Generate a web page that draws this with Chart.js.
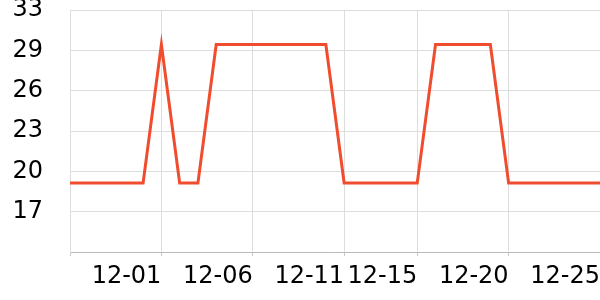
<!DOCTYPE html>
<html>
<head>
<meta charset="utf-8">
<script src="https://cdn.jsdelivr.net/npm/chart.js@4"></script>
<style>
  html, body { margin: 0; padding: 0; background: #fff; }
  #wrap { width: 600px; height: 300px; }
</style>
</head>
<body>
<div id="wrap"><canvas id="lineChart"></canvas></div>
<script>
// Daily values, 11-26 to 12-25
const dates = [
  '11-26', '11-27', '11-28', '11-29', '11-30',
  '12-01', '12-02', '12-03', '12-04', '12-05',
  '12-06', '12-07', '12-08', '12-09', '12-10',
  '12-11', '12-12', '12-13', '12-14', '12-15',
  '12-16', '12-17', '12-18', '12-19', '12-20',
  '12-21', '12-22', '12-23', '12-24', '12-25'
];
const values = [
  19.7, 19.7, 19.7, 19.7, 19.7,
  30.35, 19.7, 19.7, 30.35, 30.35,
  30.35, 30.35, 30.35, 30.35, 30.35,
  19.7, 19.7, 19.7, 19.7, 19.7,
  30.35, 30.35, 30.35, 30.35, 19.7,
  19.7, 19.7, 19.7, 19.7, 19.7
];
// y ticks: evenly spaced values, shown with the labels below
const yTicks = [14.4, 17.5, 20.6, 23.7, 26.8, 29.9, 33.0];
const yTickLabels = ['', '17', '20', '23', '26', '29', '33'];
// x labels that get a label and a grid line
const xTickLabels = ['12-01', '12-06', '12-11', '12-15', '12-20', '12-25'];

document.addEventListener('DOMContentLoaded', () => {
  const ctx = document.getElementById('lineChart').getContext('2d');
  const gridOn = (i) => i === 0 || (xTickLabels.includes(dates[i]) && i !== dates.length - 1);

  new Chart(ctx, {
    type: 'line',
    data: {
      labels: dates,
      datasets: [{
        data: values,
        borderColor: '#ef4d2e',
        borderWidth: 3,
        pointRadius: 0,
        tension: 0,
        fill: false
      }]
    },
    options: {
      responsive: true,
      maintainAspectRatio: false,
      animation: false,
      layout: { padding: 0 },
      plugins: {
        legend: { display: false },
        tooltip: { enabled: false }
      },
      scales: {
        x: {
          offset: false,
          afterFit: (axis) => { axis.height = 48; },
          grid: {
            color: (c) => gridOn(c.index) ? '#dddddd' : 'rgba(0,0,0,0)',
            tickColor: (c) => gridOn(c.index) ? '#c8c8c8' : 'rgba(0,0,0,0)',
            tickLength: 4
          },
          border: { color: '#bbbbbb' },
          ticks: {
            autoSkip: false,
            maxRotation: 0,
            align: 'end',
            padding: 0,
            color: '#000',
            // taller line box pushes the labels down without adding side padding
            font: { family: 'DejaVu Sans', size: 24, lineHeight: 1.7 },
            callback: (v, i) => xTickLabels.includes(dates[i]) ? dates[i] : ''
          }
        },
        y: {
          min: yTicks[0],
          max: yTicks[yTicks.length - 1],
          afterBuildTicks: (axis) => {
            axis.ticks = yTicks.map(v => ({ value: v }));
          },
          afterFit: (axis) => { axis.width = 70; },
          grid: {
            color: '#dddddd',
            tickColor: 'rgba(0,0,0,0)',
            tickLength: 27
          },
          border: { color: '#dddddd' },
          ticks: {
            padding: 0,
            color: '#000',
            font: { family: 'DejaVu Sans', size: 24, lineHeight: 0.84 },
            callback: (v, i) => yTickLabels[i]
          }
        }
      }
    }
  });
});
</script>
</body>
</html>
